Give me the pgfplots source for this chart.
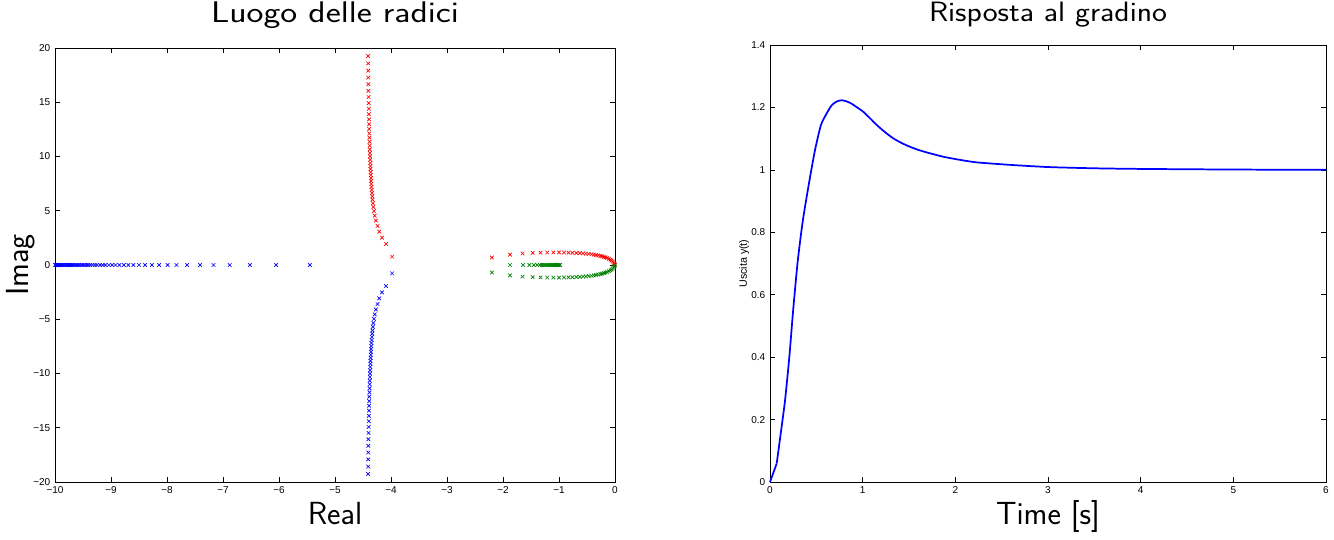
\documentclass[border=0pt]{standalone}
\usepackage{fontspec}
\usepackage{graphicx}
\usepackage{pgfplots}
\usepackage{pgfplotstable}
\pgfplotsset{compat=1.18}
\newfontfamily\hv{Liberation Sans}

\pgfplotstableread{
x y
-3.98 0.77
-4.09 1.94
-4.16 2.52
-4.21 3.07
-4.24 3.6
-4.27 4.1
-4.29 4.55
-4.305 4.96
-4.315 5.34
-4.325 5.69
-4.33 6.02
-4.335 6.33
-4.34 6.63
-4.345 6.92
-4.35 7.2
-4.352 7.47
-4.355 7.74
-4.358 8.01
-4.36 8.28
-4.363 8.55
-4.366 8.83
-4.368 9.11
-4.37 9.4
-4.372 9.7
-4.375 10.01
-4.377 10.33
-4.379 10.66
-4.381 11.0
-4.383 11.36
-4.385 11.74
-4.387 12.13
-4.389 12.54
-4.391 12.97
-4.393 13.42
-4.395 13.9
-4.397 14.4
-4.399 14.92
-4.401 15.48
-4.403 16.06
-4.405 16.66
-4.406 17.28
-4.407 17.92
-4.408 18.58
-4.409 19.26
}\vertbranch

\pgfplotstableread{
x y
-2.2 0.69
-1.875 0.95
-1.65 1.07
-1.47 1.12
-1.33 1.14
-1.21 1.15
-1.1 1.16
-1.0 1.16
-0.91 1.15
-0.83 1.14
-0.76 1.13
-0.69 1.11
-0.63 1.09
-0.57 1.07
-0.52 1.05
-0.47 1.02
-0.42 0.99
-0.38 0.96
-0.34 0.92
-0.30 0.88
-0.26 0.84
-0.23 0.80
-0.20 0.75
-0.17 0.70
-0.14 0.64
-0.11 0.57
-0.08 0.49
-0.06 0.41
-0.04 0.32
-0.02 0.22
-0.01 0.12
0 0.03
}\arcbranch

\pgfplotstableread{
x y
-5.45 0
-6.05 0
-6.52 0
-6.88 0
-7.17 0
-7.41 0
-7.64 0
-7.83 0
-7.99 0
-8.14 0
-8.27 0
-8.39 0
-8.5 0
-8.6 0
-8.69 0
-8.77 0
-8.85 0
-8.92 0
-8.98 0
-9.04 0
-9.1 0
-9.15 0
-9.2 0
-9.25 0
-9.29 0
-9.33 0
-9.37 0
-9.41 0
-9.44 0
-9.48 0
-9.51 0
-9.54 0
-9.57 0
-9.6 0
-9.62 0
-9.65 0
-9.67 0
-9.69 0
-9.71 0
-9.73 0
-9.75 0
-9.77 0
-9.79 0
-9.81 0
-9.83 0
-9.85 0
-9.87 0
-9.89 0
-9.91 0
-9.93 0
-9.95 0
-9.97 0
-9.99 0
-10 0
}\realbranch

\pgfplotstableread{
x y
-1.875 0
-1.64 0
-1.53 0
-1.45 0
-1.39 0
-1.34 0
-1.30 0
-1.27 0
-1.24 0
-1.21 0
-1.19 0
-1.17 0
-1.15 0
-1.13 0
-1.11 0
-1.09 0
-1.07 0
-1.05 0
-1.03 0
-1.01 0
-0.99 0
-0.98 0
}\greenreal

\pgfplotstableread{
t y
0.072 0.059
0.115 0.154
0.162 0.261
0.208 0.399
0.252 0.558
0.299 0.707
0.353 0.835
0.424 0.963
0.486 1.064
0.55 1.144
0.612 1.181
0.666 1.207
0.72 1.219
0.774 1.223
0.83 1.219
0.88 1.212
0.94 1.200
1.007 1.186
1.08 1.165
1.151 1.144
1.24 1.121
1.33 1.101
1.42 1.086
1.51 1.074
1.6 1.064
1.69 1.056
1.87 1.042
2.05 1.032
2.23 1.024
2.59 1.016
3.0 1.009
3.5 1.005
4.0 1.003
5.0 1.001
6.0 1.000
}\step

\begin{document}
\begin{tikzpicture}
\path[use as bounding box] (0,0) rectangle (1000.5pt,404.25pt);
\pgfplotsset{
  every axis/.append style={
    scale only axis,
    axis line style={black, line width=0.5pt},
    tick style={black, line width=0.5pt},
    tick align=inside,
    major tick length=3.5pt,
    tick label style={font=\hv\fontsize{7.5}{9}\selectfont, black},
    clip=false,
  }
}
\begin{axis}[
  at={(41.25pt,42.75pt)}, anchor=south west,
  width=420pt, height=325.5pt,
  xmin=-10, xmax=0, ymin=-20, ymax=20,
  xtick={-10,-9,...,0},
  xticklabels={−10,−9,−8,−7,−6,−5,−4,−3,−2,−1,0},
  ytick={-20,-15,...,20},
  yticklabels={−20,−15,−10,−5,0,5,10,15,20},
  title={\scalebox{1.2}[1]{Luogo delle radici}},
  title style={font=\sffamily\fontsize{22.4}{27}\selectfont, anchor=base, at={(0.5,1)}, yshift=13pt},
  xlabel={Real},
  xlabel style={font=\sffamily\fontsize{24}{29}\selectfont, at={(0.5,0)}, anchor=base, yshift=-31.5pt},
  ylabel={Imag},
  every axis y label/.style={at={(ticklabel cs:0.5)}, rotate=90, anchor=base, font=\sffamily\fontsize{24}{29}\selectfont},
]
\addplot[only marks, mark=x, mark size=1.9pt, red, line width=0.5pt] table[x=x,y=y] {\vertbranch};
\addplot[only marks, mark=x, mark size=1.9pt, blue, line width=0.5pt] table[x=x,y expr=-\thisrow{y}] {\vertbranch};
\addplot[only marks, mark=x, mark size=1.9pt, blue, line width=0.5pt] table[x=x,y=y] {\realbranch};
\addplot[only marks, mark=x, mark size=1.9pt, red, line width=0.5pt] table[x=x,y=y] {\arcbranch};
\addplot[only marks, mark=x, mark size=1.9pt, green!50!black, line width=0.5pt] table[x=x,y expr=-\thisrow{y}] {\arcbranch};
\addplot[only marks, mark=x, mark size=1.9pt, green!50!black, line width=0.5pt] table[x=x,y=y] {\greenreal};
\end{axis}

\begin{axis}[
  at={(577.5pt,42.75pt)}, anchor=south west,
  width=417pt, height=327.75pt,
  xmin=0, xmax=6, ymin=0, ymax=1.4,
  xtick={0,1,...,6},
  xticklabels={0,1,2,3,4,5,6},
  ytick={0,0.2,0.4,0.6,0.8,1,1.2,1.4},
  yticklabels={0,0.2,0.4,0.6,0.8,1,1.2,1.4},
  title={\scalebox{1.13}[1]{Risposta al gradino}},
  title style={font=\sffamily\fontsize{21}{25}\selectfont, anchor=base, at={(0.5,1)}, yshift=11.8pt},
  xlabel={Time [s]},
  xlabel style={font=\sffamily\fontsize{24}{29}\selectfont, at={(0.5,0)}, anchor=base, yshift=-31.5pt},
  every axis y label/.style={at={(ticklabel cs:0.5)}, rotate=90, anchor=base, font=\hv\fontsize{8}{9.5}\selectfont},
  ylabel={Uscita y(t)},
]
\addplot[blue, line width=1.3pt, smooth, tension=0.4] table[x=t,y=y] {\step};
\addplot[blue, line width=1.3pt] coordinates {(0,0) (0.072,0.059)};
\end{axis}
\end{tikzpicture}
\end{document}
